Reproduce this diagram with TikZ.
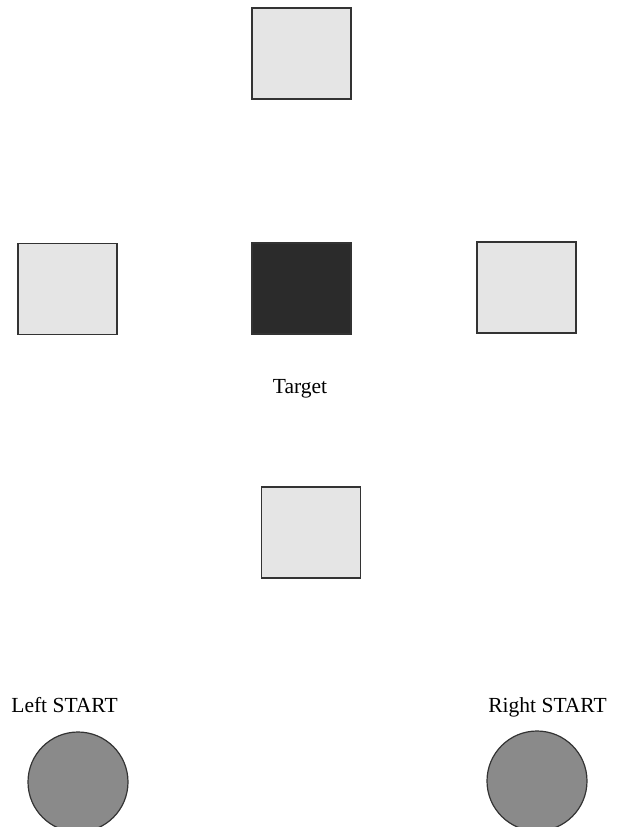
\documentclass[tikz,border=0pt]{standalone}
\usepackage{fontspec}
\setmainfont{Liberation Serif}
\definecolor{boxgray}{gray}{0.9}
\definecolor{targetgray}{gray}{0.17}
\definecolor{startgray}{gray}{0.54}
\definecolor{edgegray}{gray}{0.2}
\tikzset{
  lightbox/.style={draw=edgegray, line width=1.2pt, fill=boxgray, minimum width=99pt, minimum height=91pt, inner sep=0pt},
  darkbox/.style={lightbox, fill=targetgray},
  startdot/.style={circle, draw=edgegray, line width=1.2pt, fill=startgray, minimum size=100pt, inner sep=0pt},
  lbl/.style={font=\fontsize{21.5}{25}\selectfont, inner sep=0pt, anchor=base}
}
\begin{document}
\begin{tikzpicture}[x=1pt,y=-1pt]
\useasboundingbox (0,0) rectangle (618,827);
\clip (0,0) rectangle (618,827);
\fill[white] (0,0) rectangle (618,827);
\node[lightbox] (top) at (301.5,53.5) {};
\node[lightbox] (left) at (67.5,289) {};
\node[darkbox] (target) at (301.5,288.5) {};
\node[lightbox] (right) at (526.5,287.5) {};
\node[lightbox] (bottom) at (311,532.5) {};
\node[lbl] (targetlbl) at (300,393) {Target};
\node[lbl] (leftlbl) at (64.5,712) {Left START};
\node[lbl] (rightlbl) at (547.5,712) {Right START};
\node[startdot] (leftstart) at (78,782) {};
\node[startdot] (rightstart) at (537,781) {};
\end{tikzpicture}
\end{document}
